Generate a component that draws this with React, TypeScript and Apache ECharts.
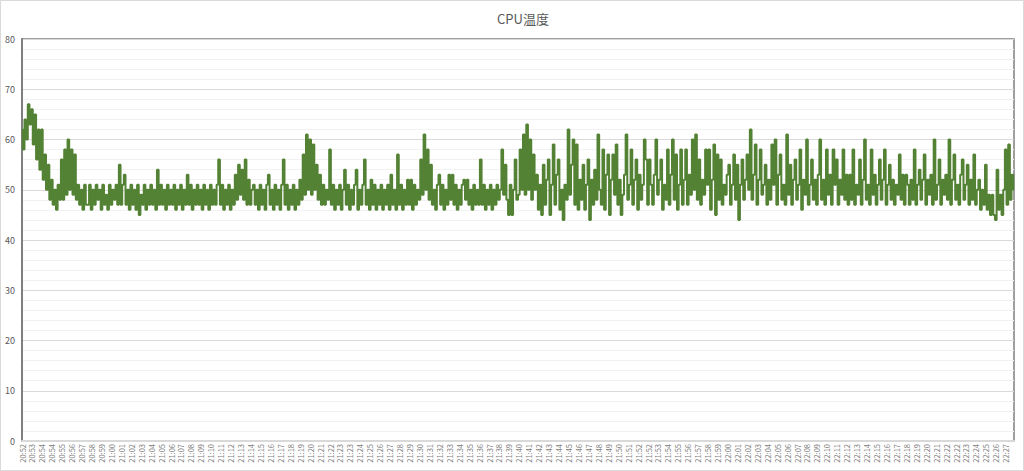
import React, { useEffect, useRef } from "react";
import * as echarts from "echarts";

const TITLE = "CPU温度";

const tickLabels: string[] = [
  "20:52","20:53","20:54","20:54","20:55","20:56","20:57","20:58","20:59","21:00",
  "21:01","21:02","21:03","21:04","21:05","21:06","21:07","21:08","21:09","21:10",
  "21:11","21:12","21:13","21:14","21:15","21:16","21:17","21:18","21:19","21:20",
  "21:21","21:22","21:23","21:23","21:24","21:25","21:26","21:27","21:28","21:29",
  "21:30","21:31","21:32","21:33","21:34","21:35","21:36","21:37","21:38","21:39",
  "21:40","21:41","21:42","21:43","21:44","21:45","21:46","21:47","21:48","21:49",
  "21:50","21:51","21:52","21:52","21:53","21:54","21:55","21:56","21:57","21:58",
  "21:59","22:00","22:01","22:02","22:03","22:04","22:05","22:06","22:07","22:08",
  "22:09","22:10","22:11","22:12","22:13","22:14","22:15","22:16","22:17","22:18",
  "22:19","22:20","22:21","22:22","22:22","22:23","22:24","22:25","22:26","22:27",
];

const POINTS_PER_LABEL = 6;

const temps: number[] = [
  62,58,64,60,67,63,66,59,65,56,62,54,62,52,57,50,55,48,52,47,
  50,46,51,48,56,48,58,49,60,50,58,49,57,48,51,47,50,46,51,47,
  47,51,46,50,47,51,48,50,46,51,47,49,46,51,47,50,48,51,47,55,
  47,51,53,47,50,46,51,47,50,46,51,45,49,47,51,46,50,47,51,47,
  50,46,54,47,51,47,50,46,51,47,50,47,51,46,50,47,51,46,50,47,
  53,47,51,46,50,47,51,47,50,46,51,47,50,46,51,47,50,47,51,56,
  47,51,46,50,47,51,46,50,47,53,48,55,49,54,48,56,47,52,47,50,
  51,47,50,46,51,47,50,46,51,53,47,50,46,51,47,50,46,51,56,47,
  51,46,50,47,51,46,50,47,52,48,57,49,61,50,60,49,59,50,55,48,
  53,47,51,47,50,48,58,47,51,46,50,47,51,46,50,54,47,51,46,50,
  47,51,54,46,50,47,51,56,47,50,46,52,47,51,46,50,47,51,46,50,
  47,51,46,53,47,50,46,57,47,51,46,50,47,52,47,52,46,51,47,50,
  48,56,49,61,50,58,48,55,47,50,46,51,53,47,51,46,50,47,53,48,
  53,47,51,46,50,47,51,52,48,52,47,50,46,51,47,50,47,56,47,51,
  46,50,47,51,46,50,47,51,48,50,58,49,55,48,45,51,45,50,56,48,
  49,58,50,61,49,63,50,60,48,57,50,53,46,51,45,55,47,52,56,45,
  51,59,47,53,56,46,50,44,51,48,62,49,55,60,47,59,46,52,48,55,
  46,51,56,44,52,47,54,48,61,50,47,58,46,53,57,45,52,57,49,59,
  47,52,45,49,53,61,48,51,58,47,52,56,46,53,48,51,60,56,47,56,
  51,47,53,60,49,52,56,46,51,48,58,47,53,60,48,57,46,51,58,47,
  52,58,47,53,49,60,50,61,48,56,47,52,49,58,51,58,46,52,59,45,
  57,48,56,47,51,49,53,55,47,51,57,48,55,44,51,56,48,52,57,50,
  62,48,53,59,47,52,58,49,51,55,47,52,48,59,51,60,47,53,57,48,
  51,47,61,49,55,47,52,56,48,51,58,46,52,49,60,47,51,56,48,52,
  47,53,60,48,52,47,58,49,53,47,58,51,56,47,52,49,58,48,53,47,
  53,48,58,47,51,49,56,47,52,60,48,51,47,58,49,53,47,51,56,48,
  52,58,47,51,55,48,52,47,51,49,57,48,53,47,53,51,47,52,48,58,
  47,51,54,48,52,57,47,52,49,53,47,60,48,51,56,47,52,49,53,48,
  60,47,52,57,48,51,47,53,56,48,51,55,47,52,48,57,47,50,52,46,
  50,47,55,46,49,45,49,45,44,54,46,49,45,50,58,47,59,48,53,50,
];

const Y_MIN = 0;
const Y_MAX = 80;
const Y_STEP = 10;

const FONT = "'Noto Sans CJK JP', 'Noto Sans', sans-serif";

export default function App() {
  const ref = useRef<HTMLDivElement>(null);

  useEffect(() => {
    if (!ref.current) return;
    const chart = echarts.init(ref.current, undefined, { renderer: "svg" });
    const categories = temps.map((_, i) => tickLabels[Math.floor(i / POINTS_PER_LABEL)] ?? "");

    chart.setOption({
      animation: false,
      backgroundColor: "#ffffff",
      textStyle: { fontFamily: FONT },
      title: {
        text: TITLE,
        left: 518,
        top: 7,
        textAlign: "center",
        textStyle: { fontFamily: FONT, fontSize: 13, fontWeight: "normal", color: "#595959" },
      },
      graphic: [
        {
          type: "rect",
          shape: { x: 0.5, y: 0.5, width: 1023, height: 470 },
          style: { fill: "none", stroke: "#d9d9d9", lineWidth: 1 },
          silent: true,
          z: -1,
        },
      ],
      grid: {
        left: 22,
        right: 10,
        top: 39,
        bottom: 30,
        show: true,
        borderColor: "#7f7f7f",
        borderWidth: 1.5,
        containLabel: false,
      },
      xAxis: {
        type: "category",
        data: categories,
        boundaryGap: false,
        axisLine: { show: true, lineStyle: { color: "#d9d9d9", width: 2 } },
        axisTick: { show: false },
        axisLabel: {
          interval: POINTS_PER_LABEL - 1,
          rotate: 90,
          fontSize: 7.5,
          color: "#7f7f7f",
          margin: 3,
          fontFamily: FONT,
        },
        splitLine: { show: false },
      },
      yAxis: {
        type: "value",
        min: Y_MIN,
        max: Y_MAX,
        interval: Y_STEP,
        axisLine: { show: true, lineStyle: { color: "#7f7f7f", width: 2 } },
        axisTick: { show: false },
        axisLabel: { fontSize: 9, color: "#595959", margin: 7, fontFamily: FONT },
        splitLine: { show: true, lineStyle: { color: "#d9d9d9", width: 1 } },
        minorTick: { show: false, splitNumber: 5 },
        minorSplitLine: { show: true, lineStyle: { color: "#f2f2f2", width: 1 } },
      },
      series: [
        {
          type: "line",
          data: temps,
          step: "middle",
          showSymbol: false,
          symbol: "none",
          lineStyle: { color: "#548235", width: 2 },
          itemStyle: { color: "#548235" },
          z: 3,
        },
      ],
    });

    return () => chart.dispose();
  }, []);

  return (
    <div
      ref={ref}
      style={{ position: "fixed", left: 0, top: 0, width: 1024, height: 471 }}
    />
  );
}
